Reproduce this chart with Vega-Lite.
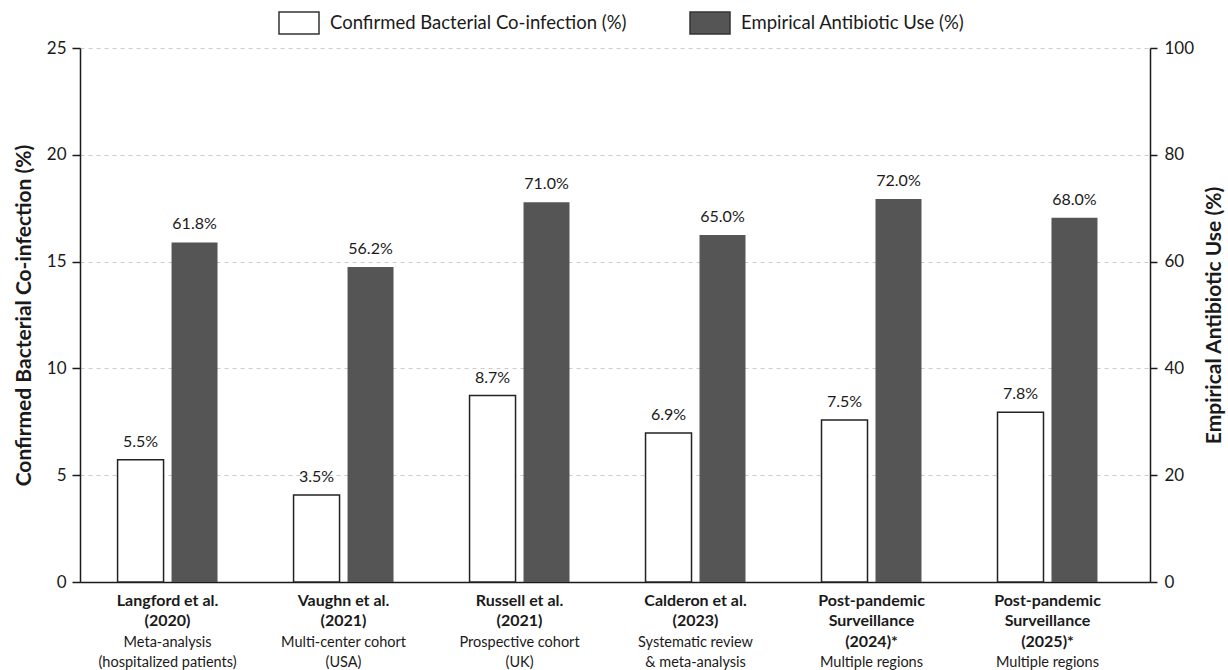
{
  "$schema": "https://vega.github.io/schema/vega-lite/v6.json",
  "width": 1070,
  "height": 534,
  "autosize": {"type": "none"},
  "padding": {"left": 80, "top": 48, "right": 78, "bottom": 88},
  "background": "white",
  "config": {
    "font": "Lato",
    "view": {"stroke": null},
    "axis": {"labelColor": "#1a1a1a", "titleColor": "#1a1a1a", "domainColor": "#1a1a1a", "tickColor": "#1a1a1a", "labelFont": "Lato", "titleFont": "Lato"}
  },
  "data": {
    "values": [
      {"cat": "Langford et al.|(2020)#Meta-analysis|(hospitalized patients)", "series": "Confirmed Bacterial Co-infection (%)", "value": 5.72, "label": "5.5%"},
      {"cat": "Langford et al.|(2020)#Meta-analysis|(hospitalized patients)", "series": "Empirical Antibiotic Use (%)", "value": 63.6, "label": "61.8%"},
      {"cat": "Vaughn et al.|(2021)#Multi-center cohort|(USA)", "series": "Confirmed Bacterial Co-infection (%)", "value": 4.07, "label": "3.5%"},
      {"cat": "Vaughn et al.|(2021)#Multi-center cohort|(USA)", "series": "Empirical Antibiotic Use (%)", "value": 59.0, "label": "56.2%"},
      {"cat": "Russell et al.|(2021)#Prospective cohort|(UK)", "series": "Confirmed Bacterial Co-infection (%)", "value": 8.73, "label": "8.7%"},
      {"cat": "Russell et al.|(2021)#Prospective cohort|(UK)", "series": "Empirical Antibiotic Use (%)", "value": 71.1, "label": "71.0%"},
      {"cat": "Calderon et al.|(2023)#Systematic review|& meta-analysis", "series": "Confirmed Bacterial Co-infection (%)", "value": 6.98, "label": "6.9%"},
      {"cat": "Calderon et al.|(2023)#Systematic review|& meta-analysis", "series": "Empirical Antibiotic Use (%)", "value": 65.0, "label": "65.0%"},
      {"cat": "Post-pandemic|Surveillance|(2024)*#Multiple regions", "series": "Confirmed Bacterial Co-infection (%)", "value": 7.58, "label": "7.5%"},
      {"cat": "Post-pandemic|Surveillance|(2024)*#Multiple regions", "series": "Empirical Antibiotic Use (%)", "value": 71.7, "label": "72.0%"},
      {"cat": "Post-pandemic|Surveillance|(2025)*#Multiple regions", "series": "Confirmed Bacterial Co-infection (%)", "value": 7.95, "label": "7.8%"},
      {"cat": "Post-pandemic|Surveillance|(2025)*#Multiple regions", "series": "Empirical Antibiotic Use (%)", "value": 68.2, "label": "68.0%"}
    ]
  },
  "layer": [
    {
      "transform": [{"filter": "datum.series === 'Confirmed Bacterial Co-infection (%)'"}],
      "encoding": {
        "x": {
          "field": "cat", "type": "nominal", "sort": null,
          "scale": {"paddingInner": 0.432, "paddingOuter": 0.256, "align": 0.417},
          "axis": {
            "orient": "bottom", "title": null, "labelAngle": 0,
            "labelExpr": "split(split(datum.value, '#')[0], '|')",
            "labelFontWeight": "bold", "labelFontSize": 16, "labelLineHeight": 20.5,
            "labelBaseline": "top", "labelPadding": 10, "ticks": false, "tickSize": 0,
            "domain": true, "domainWidth": 1.5, "labelLimit": 0, "grid": false
          }
        },
        "xOffset": {"field": "series", "type": "nominal", "scale": {"domain": ["Confirmed Bacterial Co-infection (%)", "Empirical Antibiotic Use (%)"], "paddingInner": 0.148, "paddingOuter": 0}},
        "y": {
          "field": "value", "type": "quantitative",
          "scale": {"domain": [0, 25]},
          "axis": {
            "orient": "left", "values": [0, 5, 10, 15, 20, 25],
            "title": "Confirmed Bacterial Co-infection (%)",
            "titleFontSize": 21, "titleFontWeight": "bold", "titlePadding": 12,
            "labelFontSize": 17, "tickSize": 8, "labelPadding": 6,
            "domainWidth": 1.5, "tickWidth": 1.5,
            "grid": true, "gridDash": [4, 4], "gridColor": "#cccccc"
          }
        }
      },
      "layer": [
        {
          "mark": {"type": "bar", "stroke": "#222222", "strokeWidth": 1.5},
          "encoding": {
            "fill": {
              "field": "series", "type": "nominal",
              "scale": {"domain": ["Confirmed Bacterial Co-infection (%)", "Empirical Antibiotic Use (%)"], "range": ["#ffffff", "#555555"]},
              "legend": {
                "orient": "none", "legendX": 198, "legendY": -46, "direction": "horizontal",
                "title": null, "padding": 0,
                "symbolType": "M-1,-0.55H1V0.55H-1Z", "symbolSize": 1600,
                "symbolStrokeColor": "#333333", "symbolStrokeWidth": 1.5, "symbolOpacity": 1,
                "labelFont": "Lato", "labelFontSize": 18.5, "labelColor": "#1a1a1a",
                "labelOffset": 10, "columnPadding": 60, "labelLimit": 0
              }
            }
          }
        },
        {
          "mark": {"type": "text", "baseline": "alphabetic", "dy": -13, "fontSize": 16, "color": "#1a1a1a"},
          "encoding": {"text": {"field": "label", "type": "nominal"}}
        }
      ]
    },
    {
      "transform": [{"filter": "datum.series === 'Empirical Antibiotic Use (%)'"}],
      "mark": {"type": "bar"},
      "encoding": {
        "x": {
          "field": "cat", "type": "nominal", "sort": null,
          "scale": {"paddingInner": 0.432, "paddingOuter": 0.256, "align": 0.417},
          "axis": {
            "orient": "bottom", "title": null, "labelAngle": 0,
            "values": [
              "Langford et al.|(2020)#Meta-analysis|(hospitalized patients)",
              "Vaughn et al.|(2021)#Multi-center cohort|(USA)",
              "Russell et al.|(2021)#Prospective cohort|(UK)",
              "Calderon et al.|(2023)#Systematic review|& meta-analysis"
            ],
            "labelExpr": "split(split(datum.value, '#')[1], '|')",
            "labelFontWeight": "normal", "labelFontSize": 14.5, "labelLineHeight": 20.5,
            "labelBaseline": "top", "labelPadding": 53, "ticks": false, "tickSize": 0,
            "domain": false, "labelLimit": 0, "grid": false
          }
        },
        "xOffset": {"field": "series", "type": "nominal", "scale": {"domain": ["Confirmed Bacterial Co-infection (%)", "Empirical Antibiotic Use (%)"], "paddingInner": 0.148, "paddingOuter": 0}},
        "y": {
          "field": "value", "type": "quantitative",
          "scale": {"domain": [0, 100]},
          "axis": {
            "orient": "right", "values": [0, 20, 40, 60, 80, 100],
            "title": "Empirical Antibiotic Use (%)", "titleAngle": 270, "titleBaseline": "top",
            "titleFontSize": 21, "titleFontWeight": "bold", "titlePadding": 10,
            "labelFontSize": 17, "tickSize": 7, "labelPadding": 7,
            "domainWidth": 1.5, "tickWidth": 1.5, "grid": false
          }
        },
        "fill": {
          "field": "series", "type": "nominal",
          "scale": {"domain": ["Confirmed Bacterial Co-infection (%)", "Empirical Antibiotic Use (%)"], "range": ["#ffffff", "#555555"]},
          "legend": {
            "orient": "none", "legendX": 198, "legendY": -46, "direction": "horizontal",
            "title": null, "padding": 0,
            "symbolType": "M-1,-0.55H1V0.55H-1Z", "symbolSize": 1600,
            "symbolStrokeColor": "#333333", "symbolStrokeWidth": 1.5, "symbolOpacity": 1,
            "labelFont": "Lato", "labelFontSize": 18.5, "labelColor": "#1a1a1a",
            "labelOffset": 10, "columnPadding": 60, "labelLimit": 0
          }
        }
      }
    },
    {
      "transform": [{"filter": "datum.series === 'Empirical Antibiotic Use (%)'"}],
      "mark": {"type": "text", "baseline": "alphabetic", "dy": -13, "fontSize": 16, "color": "#1a1a1a"},
      "encoding": {
        "x": {
          "field": "cat", "type": "nominal", "sort": null,
          "scale": {"paddingInner": 0.432, "paddingOuter": 0.256, "align": 0.417},
          "axis": {
            "orient": "bottom", "title": null, "labelAngle": 0,
            "values": [
              "Post-pandemic|Surveillance|(2024)*#Multiple regions",
              "Post-pandemic|Surveillance|(2025)*#Multiple regions"
            ],
            "labelExpr": "split(split(datum.value, '#')[1], '|')",
            "labelFontWeight": "normal", "labelFontSize": 14.5, "labelLineHeight": 20.5,
            "labelBaseline": "top", "labelPadding": 73.5, "ticks": false, "tickSize": 0,
            "domain": false, "labelLimit": 0, "grid": false
          }
        },
        "xOffset": {"field": "series", "type": "nominal", "scale": {"domain": ["Confirmed Bacterial Co-infection (%)", "Empirical Antibiotic Use (%)"], "paddingInner": 0.148, "paddingOuter": 0}},
        "y": {
          "field": "value", "type": "quantitative",
          "scale": {"domain": [0, 100]},
          "axis": null
        },
        "text": {"field": "label", "type": "nominal"}
      }
    }
  ],
  "resolve": {"scale": {"y": "independent"}, "axis": {"x": "independent"}}
}
